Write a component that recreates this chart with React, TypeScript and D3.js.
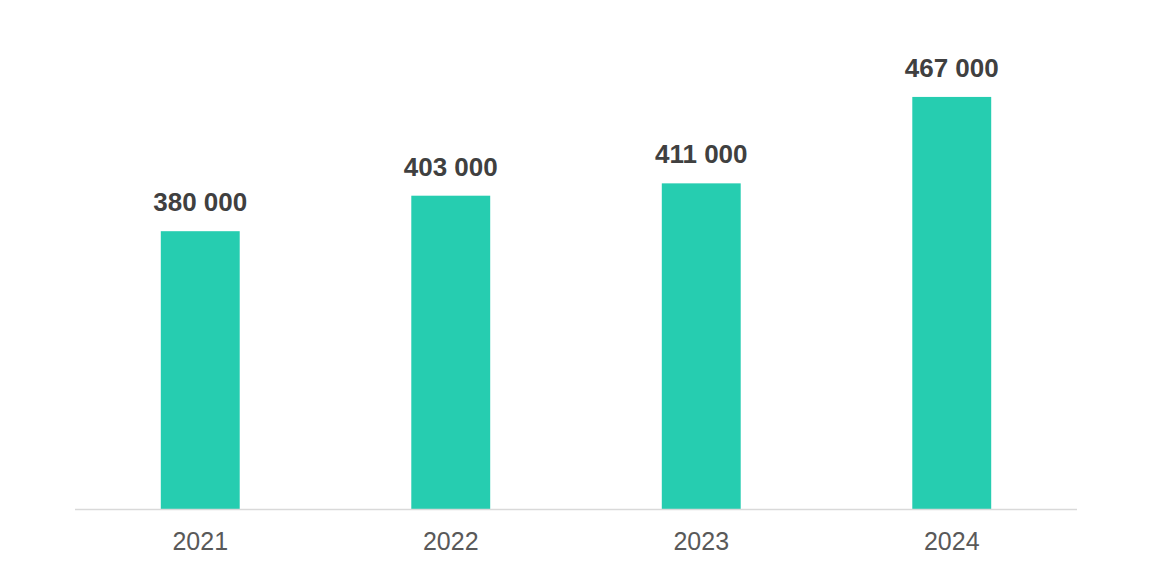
import React from 'react';
import * as d3 from 'd3';

const years = ['2021', '2022', '2023', '2024'];
const values = [380000, 403000, 411000, 467000];
const yDomain = [200000, 500000];

const W = 1152;
const H = 585;
const margin = { top: 46, right: 75, bottom: 76, left: 75 };

const fmt = (v: number) => d3.format(',')(v).replace(/,/g, ' ');

const App: React.FC = () => {
  const x = d3.scaleBand<string>()
    .domain(years)
    .range([margin.left, W - margin.right])
    .paddingInner(0.685)
    .paddingOuter(0.3425);

  const y = d3.scaleLinear()
    .domain(yDomain)
    .range([H - margin.bottom, margin.top]);

  const baseY = H - margin.bottom;

  return (
    <svg width={W} height={H} style={{ position: 'absolute', left: 0, top: 0, background: '#fff' }}
      fontFamily="'Liberation Sans', Arial, sans-serif">
      {years.map((yr, i) => (
        <rect key={yr}
          x={x(yr)}
          y={y(values[i])}
          width={x.bandwidth()}
          height={baseY - y(values[i])}
          fill="#26cdb0" />
      ))}
      <line x1={margin.left} x2={W - margin.right} y1={baseY + 0.5} y2={baseY + 0.5}
        stroke="#d9d9d9" strokeWidth={1.5} />
      {years.map((yr, i) => (
        <text key={'v' + yr}
          x={(x(yr) ?? 0) + x.bandwidth() / 2}
          y={y(values[i]) - 20}
          textAnchor="middle"
          fontSize={26}
          fontWeight="bold"
          fill="#404040">{fmt(values[i])}</text>
      ))}
      {years.map((yr) => (
        <text key={'t' + yr}
          x={(x(yr) ?? 0) + x.bandwidth() / 2}
          y={baseY + 41}
          textAnchor="middle"
          fontSize={25}
          fill="#595959">{yr}</text>
      ))}
    </svg>
  );
};

export default App;
